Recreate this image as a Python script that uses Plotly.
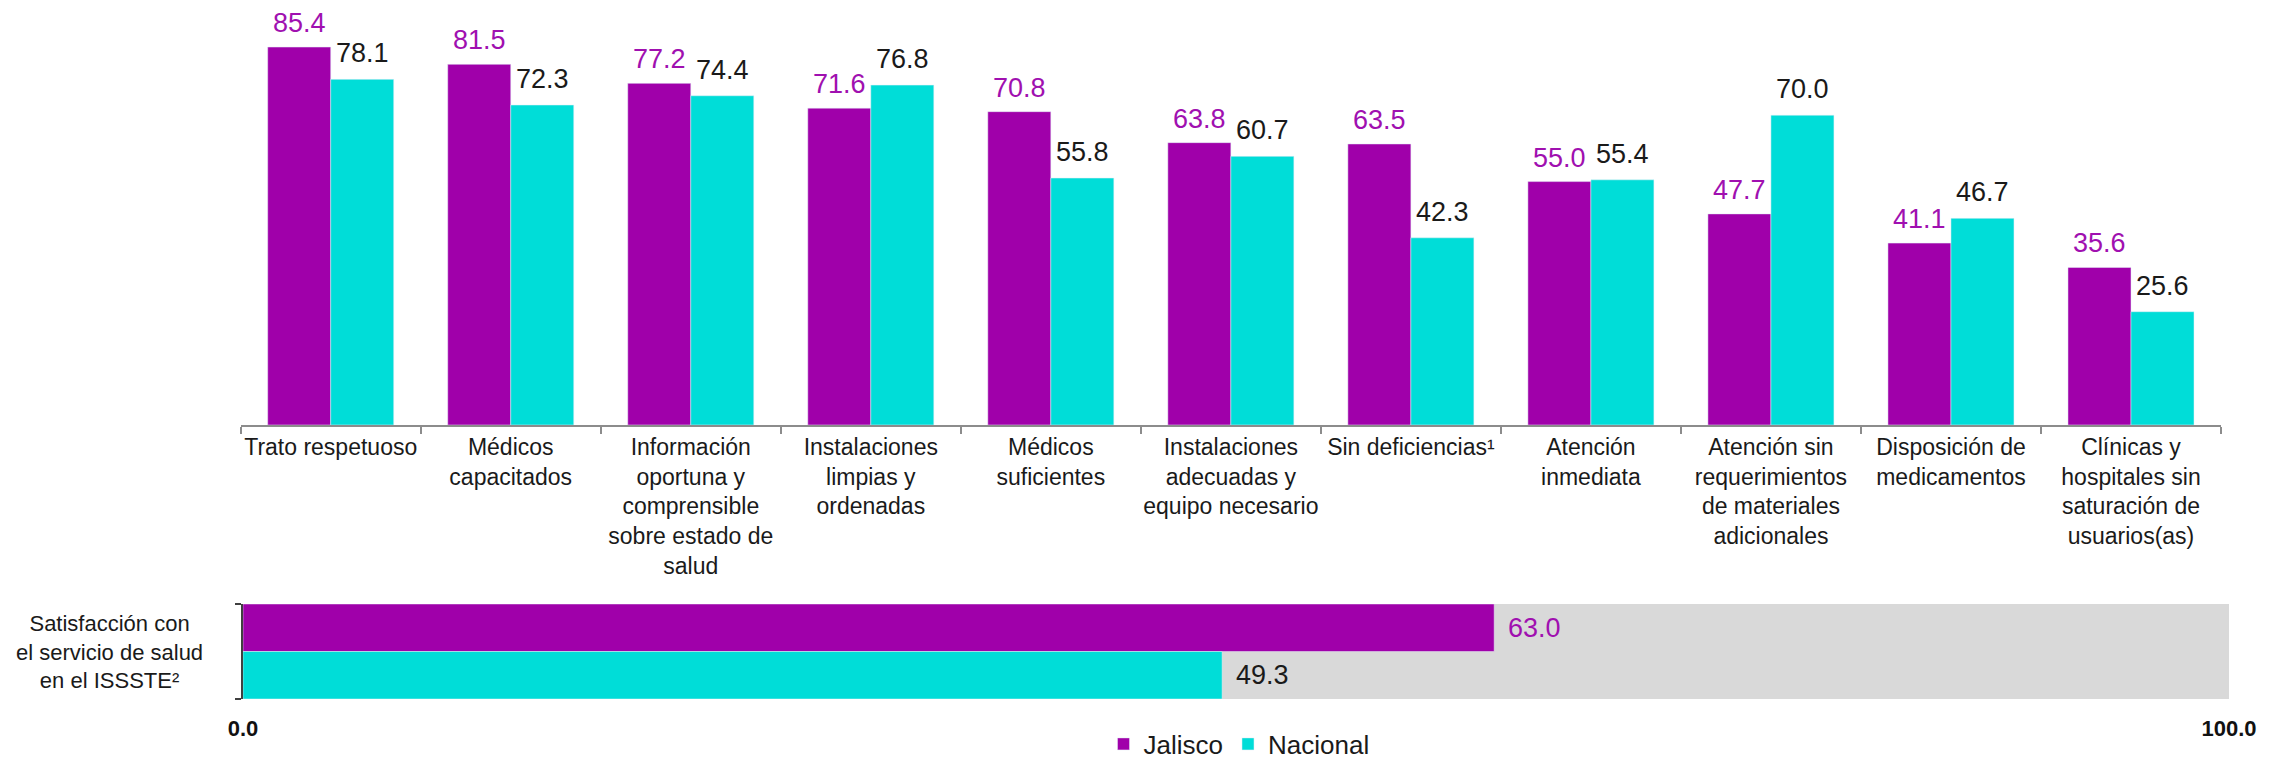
import plotly.graph_objects as go

categories = [
    "Trato respetuoso",
    "Médicos<br>capacitados",
    "Información<br>oportuna y<br>comprensible<br>sobre estado de<br>salud",
    "Instalaciones<br>limpias y<br>ordenadas",
    "Médicos<br>suficientes",
    "Instalaciones<br>adecuadas y<br>equipo necesario",
    "Sin deficiencias¹",
    "Atención<br>inmediata",
    "Atención sin<br>requerimientos<br>de materiales<br>adicionales",
    "Disposición de<br>medicamentos",
    "Clínicas y<br>hospitales sin<br>saturación de<br>usuarios(as)",
]
jalisco = [85.4, 81.5, 77.2, 71.6, 70.8, 63.8, 63.5, 55.0, 47.7, 41.1, 35.6]
nacional = [78.1, 72.3, 74.4, 76.8, 55.8, 60.7, 42.3, 55.4, 70.0, 46.7, 25.6]

sat_label = "Satisfacción con<br>el servicio de salud<br>en el ISSSTE²"
sat_jalisco = 63.0
sat_nacional = 49.3
scale_ticks = [0, 100]

PURPLE = "#A000AA"
CYAN = "#00DDD8"
PURPLE_TXT = "#A010B0"
DARK_TXT = "#1a1a1a"
FONT = "Liberation Sans, Arial, sans-serif"

# page is 2285x772; the html body keeps an 8px margin around the figure
PAGE_W, PAGE_H, M = 2285, 772, 8
W, H = PAGE_W - 2 * M, PAGE_H - 2 * M


def px(x):
    return (x - M) / W


def py(y):
    return 1 - (y - M) / H


x_dom = [px(240.7), px(2221)]
y_dom = [py(425), py(26.7)]
x2_dom = [px(243), px(2229)]
y2_dom = [py(699), py(604)]
bargap = 0.3

fig = go.Figure()
fig.add_trace(go.Bar(name="Jalisco", x=categories, y=jalisco, marker_color=PURPLE,
                     xaxis="x", yaxis="y"))
fig.add_trace(go.Bar(name="Nacional", x=categories, y=nacional, marker_color=CYAN,
                     xaxis="x", yaxis="y"))

fig.add_trace(go.Bar(name="Jalisco", x=[sat_jalisco], y=[sat_label], orientation="h",
                     marker_color=PURPLE, width=0.5, offset=0, showlegend=False,
                     xaxis="x2", yaxis="y2"))
fig.add_trace(go.Bar(name="Nacional", x=[sat_nacional], y=[sat_label], orientation="h",
                     marker_color=CYAN, width=0.5, offset=-0.5, showlegend=False,
                     xaxis="x2", yaxis="y2"))

cat_px = (x_dom[1] - x_dom[0]) * W / len(categories)
half_bar = cat_px * (1 - bargap) / 4

annotations = []
for c, j, n in zip(categories, jalisco, nacional):
    annotations.append(dict(x=c, y=j, xref="x", yref="y", text=f"{j:.1f}",
                            showarrow=False, yanchor="bottom", xshift=-half_bar, yshift=7,
                            font=dict(family=FONT, size=27, color=PURPLE_TXT)))
    annotations.append(dict(x=c, y=n, xref="x", yref="y", text=f"{n:.1f}",
                            showarrow=False, yanchor="bottom", xshift=half_bar, yshift=9,
                            font=dict(family=FONT, size=27, color=DARK_TXT)))

bar_half_h = (y2_dom[1] - y2_dom[0]) * H / 4
annotations.append(dict(x=sat_jalisco, y=sat_label, xref="x2", yref="y2",
                        text=f"{sat_jalisco:.1f}", showarrow=False, xanchor="left",
                        xshift=12, yshift=bar_half_h,
                        font=dict(family=FONT, size=27, color=PURPLE_TXT)))
annotations.append(dict(x=sat_nacional, y=sat_label, xref="x2", yref="y2",
                        text=f"{sat_nacional:.1f}", showarrow=False, xanchor="left",
                        xshift=12, yshift=-bar_half_h,
                        font=dict(family=FONT, size=27, color=DARK_TXT)))
annotations.append(dict(x=px(109), y=0.5, xref="paper", yref="y2 domain",
                        text=sat_label, showarrow=False, xanchor="center", yanchor="middle",
                        align="center", font=dict(family=FONT, size=22, color=DARK_TXT)))

fig.update_layout(
    width=W, height=H,
    margin=dict(l=0, r=0, t=0, b=0, autoexpand=False),
    paper_bgcolor="white", plot_bgcolor="rgba(0,0,0,0)",
    barmode="group", bargap=bargap, bargroupgap=0,
    font=dict(family=FONT, size=23, color=DARK_TXT),
    xaxis=dict(domain=x_dom, anchor="y", type="category", showline=True,
               linecolor="#8c8c8c", linewidth=2, ticks="outside", tickson="boundaries",
               ticklen=7, tickwidth=2, tickcolor="#8c8c8c", showgrid=False,
               tickangle=0, automargin=False,
               tickfont=dict(family=FONT, size=23, color=DARK_TXT)),
    yaxis=dict(domain=y_dom, anchor="x", range=[0, 90], visible=False, automargin=False),
    xaxis2=dict(domain=x2_dom, anchor="y2", range=[0, 100], tickvals=scale_ticks,
                tickformat=".1f", showline=False, showgrid=False, zeroline=False,
                ticks="", ticklabelstandoff=14, automargin=False, tickangle=0,
                tickfont=dict(family=FONT, size=22, color="#111111", weight="bold")),
    yaxis2=dict(domain=y2_dom, anchor="x2", type="category", showline=True,
                linecolor="#404040", linewidth=2, ticks="outside", tickson="boundaries",
                ticklen=6, tickwidth=2, tickcolor="#404040", showticklabels=False,
                showgrid=False, automargin=False),
    shapes=[dict(type="rect", xref="x2", yref="y2 domain", x0=scale_ticks[0],
                 x1=scale_ticks[-1], y0=0, y1=1, fillcolor="#d9d9d9",
                 line=dict(width=0), layer="below")],
    legend=dict(orientation="h", x=px(1239), xanchor="center", y=py(744),
                yanchor="middle", font=dict(family=FONT, size=26, color=DARK_TXT),
                itemwidth=30, bgcolor="rgba(0,0,0,0)"),
    annotations=annotations,
)

fig.write_html("out.html")
